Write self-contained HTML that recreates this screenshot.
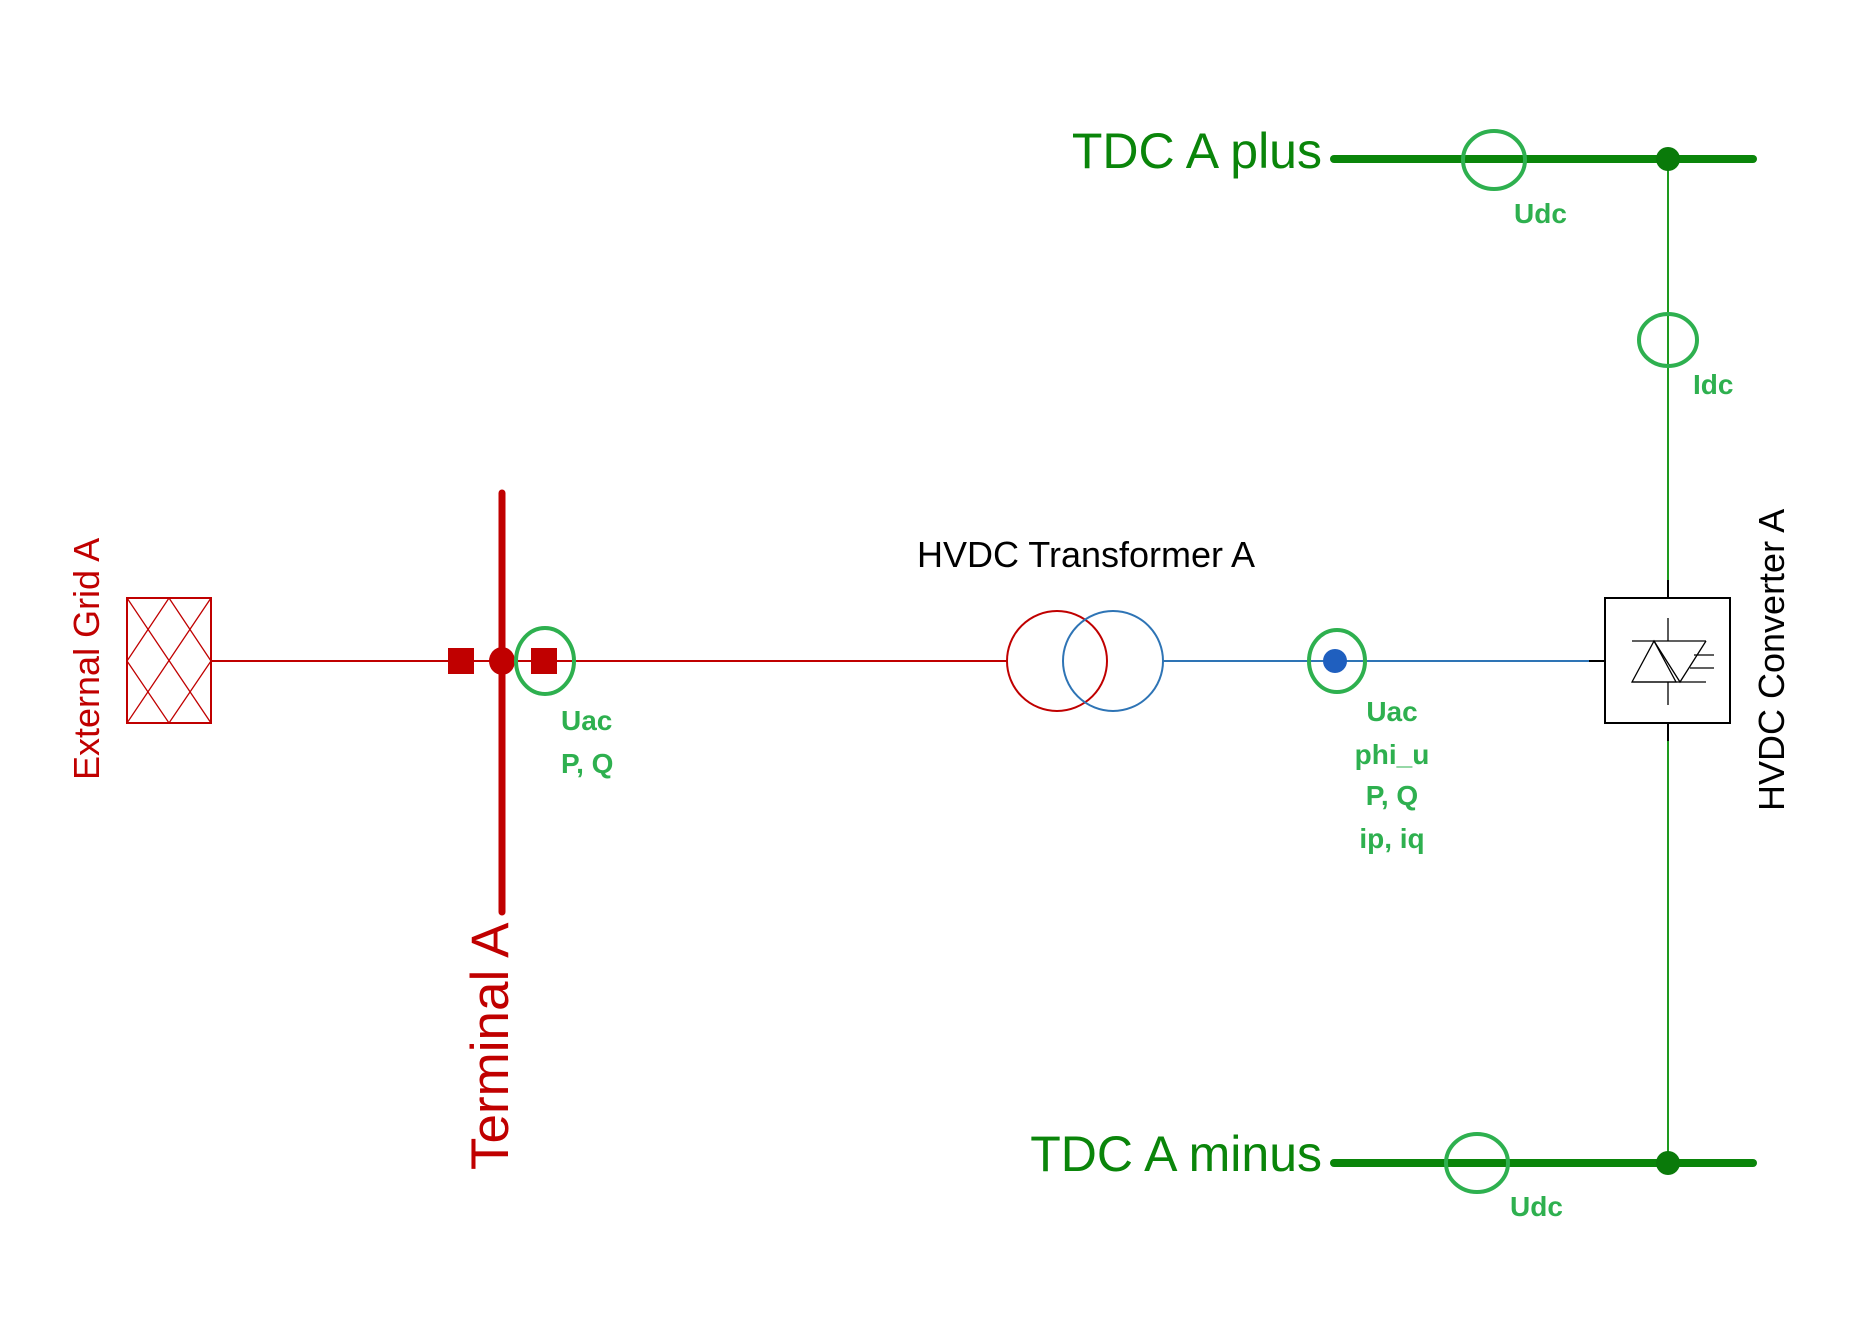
<!DOCTYPE html>
<html><head><meta charset="utf-8"><style>
html,body{margin:0;padding:0;background:#fff;}
svg{display:block;}
text{font-family:"Liberation Sans",sans-serif;}
.lb{font-weight:bold;fill:#2eb04f;font-size:28px;}
</style></head><body>
<svg width="1862" height="1317" viewBox="0 0 1862 1317" xmlns="http://www.w3.org/2000/svg">
<!-- External grid -->
<rect x="127" y="598" width="84" height="125" fill="none" stroke="#c00000" stroke-width="2"/>
<g stroke="#c00000" stroke-width="1.3" fill="none">
<line x1="127" y1="598" x2="211" y2="723"/>
<line x1="211" y1="598" x2="127" y2="723"/>
<polygon points="169,598 211,661 169,723 127,661"/>
</g>
<text transform="translate(99,780) rotate(-90)" font-size="36" fill="#c00000">External Grid A</text>
<!-- red line -->
<line x1="211" y1="661" x2="1007" y2="661" stroke="#c00000" stroke-width="2"/>
<!-- terminal bus -->
<line x1="502" y1="493" x2="502" y2="912" stroke="#c00000" stroke-width="7" stroke-linecap="round"/>
<rect x="448" y="648" width="26" height="26" fill="#c00000"/>
<rect x="531" y="648" width="26" height="26" fill="#c00000"/>
<ellipse cx="502" cy="661" rx="13" ry="14" fill="#c00000"/>
<ellipse cx="545" cy="661" rx="29" ry="33" fill="none" stroke="#2eb04f" stroke-width="4"/>
<text class="lb" x="561" y="730">Uac</text>
<text class="lb" x="561" y="773">P, Q</text>
<text transform="translate(508,1170) rotate(-90)" font-size="53" fill="#c00000">Terminal A</text>
<!-- transformer -->
<circle cx="1057" cy="661" r="50" fill="none" stroke="#c00000" stroke-width="2"/>
<circle cx="1113" cy="661" r="50" fill="none" stroke="#2e74b5" stroke-width="2"/>
<text x="1086" y="567" font-size="36" text-anchor="middle" fill="#000">HVDC Transformer A</text>
<line x1="1163" y1="661" x2="1589" y2="661" stroke="#2e74b5" stroke-width="2"/>
<line x1="1589" y1="661" x2="1605" y2="661" stroke="#000" stroke-width="2"/>
<circle cx="1335" cy="661" r="12" fill="#1f5fbf"/>
<ellipse cx="1337" cy="661" rx="28" ry="31" fill="none" stroke="#2eb04f" stroke-width="4"/>
<text class="lb" x="1392" y="721" text-anchor="middle">Uac</text>
<text class="lb" x="1392" y="764" text-anchor="middle">phi_u</text>
<text class="lb" x="1392" y="805" text-anchor="middle">P, Q</text>
<text class="lb" x="1392" y="848" text-anchor="middle">ip, iq</text>
<!-- DC -->
<line x1="1668" y1="159" x2="1668" y2="580" stroke="#1e9a1e" stroke-width="2"/>
<line x1="1668" y1="741" x2="1668" y2="1163" stroke="#1e9a1e" stroke-width="2"/>
<line x1="1668" y1="580" x2="1668" y2="598" stroke="#000" stroke-width="2"/>
<line x1="1668" y1="723" x2="1668" y2="741" stroke="#000" stroke-width="2"/>
<rect x="1605" y="598" width="125" height="125" fill="#fff" stroke="#000" stroke-width="2"/>
<g stroke="#000" stroke-width="1.3" fill="none">
<line x1="1632" y1="641" x2="1706" y2="641"/>
<line x1="1632" y1="682" x2="1706" y2="682"/>
<polygon points="1632,682 1654,641 1676,682"/>
<polyline points="1654,641 1680,682 1706,641"/>
<line x1="1668" y1="618" x2="1668" y2="641"/>
<line x1="1668" y1="682" x2="1668" y2="705"/>
<line x1="1694" y1="655" x2="1714" y2="655"/>
<line x1="1690" y1="668" x2="1714" y2="668"/>
</g>
<text transform="translate(1784,811) rotate(-90)" font-size="36" fill="#000">HVDC Converter A</text>
<!-- top bus -->
<line x1="1334" y1="159" x2="1753" y2="159" stroke="#0a850a" stroke-width="8" stroke-linecap="round"/>
<circle cx="1668" cy="159" r="12" fill="#0a7a0a"/>
<ellipse cx="1494" cy="160" rx="31" ry="29" fill="none" stroke="#2eb04f" stroke-width="4"/>
<text class="lb" x="1514" y="223">Udc</text>
<text x="1322" y="168" font-size="50" text-anchor="end" fill="#0a850a">TDC A plus</text>
<ellipse cx="1668" cy="340" rx="29" ry="26" fill="none" stroke="#2eb04f" stroke-width="4"/>
<text class="lb" x="1693" y="394">Idc</text>
<!-- bottom bus -->
<line x1="1334" y1="1163" x2="1753" y2="1163" stroke="#0a850a" stroke-width="8" stroke-linecap="round"/>
<circle cx="1668" cy="1163" r="12" fill="#0a7a0a"/>
<ellipse cx="1477" cy="1163" rx="31" ry="29" fill="none" stroke="#2eb04f" stroke-width="4"/>
<text class="lb" x="1510" y="1216">Udc</text>
<text x="1322" y="1171" font-size="50" text-anchor="end" fill="#0a850a">TDC A minus</text>
</svg>
</body></html>
